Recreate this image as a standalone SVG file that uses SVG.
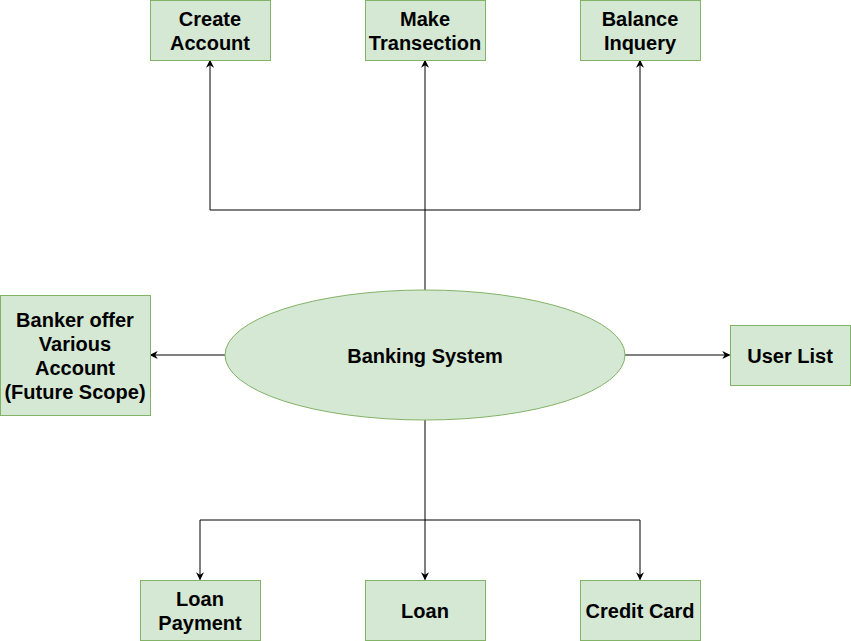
<svg xmlns="http://www.w3.org/2000/svg" width="851" height="641" viewBox="0 0 851 641">
<defs>
<style>
.n{fill:#d5e8d4;stroke:#82b366;stroke-width:1}
.t{font-family:"Liberation Sans",Arial,sans-serif;font-weight:bold;font-size:20px;fill:#000;text-anchor:middle}
.c{fill:none;stroke:#000;stroke-width:1}
</style>
<marker id="ah" viewBox="0 0 10 10" refX="9" refY="5" markerWidth="8" markerHeight="8" markerUnits="userSpaceOnUse" orient="auto">
<path d="M0,0 L10,5 L0,10 L3,5 Z" fill="#000"/>
</marker>
</defs>
<rect width="851" height="641" fill="#fff"/>
<g id="connectors">
<path class="c" d="M425,290 V60.5" marker-end="url(#ah)"/>
<path class="c" d="M425,210 H210 V60.5" marker-end="url(#ah)"/>
<path class="c" d="M425,210 H640 V60.5" marker-end="url(#ah)"/>
<path class="c" d="M225,355 H150.5" marker-end="url(#ah)"/>
<path class="c" d="M625,355 H729.5" marker-end="url(#ah)"/>
<path class="c" d="M425,420 V579.5" marker-end="url(#ah)"/>
<path class="c" d="M425,520 H200 V579.5" marker-end="url(#ah)"/>
<path class="c" d="M425,520 H640 V579.5" marker-end="url(#ah)"/>
</g>
<g id="create-account">
<rect class="n" x="150.5" y="0.5" width="120" height="60"/>
<text class="t" x="210" y="26">Create</text>
<text class="t" x="210" y="50">Account</text>
</g>
<g id="make-transection">
<rect class="n" x="365.5" y="0.5" width="120" height="60"/>
<text class="t" x="425" y="26">Make</text>
<text class="t" x="425" y="50">Transection</text>
</g>
<g id="balance-inquery">
<rect class="n" x="580.5" y="0.5" width="120" height="60"/>
<text class="t" x="640" y="26">Balance</text>
<text class="t" x="640" y="50">Inquery</text>
</g>
<g id="banking-system">
<ellipse class="n" cx="425" cy="355" rx="200" ry="65"/>
<text class="t" x="425" y="363">Banking System</text>
</g>
<g id="banker-offer">
<rect class="n" x="0.5" y="295.5" width="150" height="120"/>
<text class="t" x="75" y="327">Banker offer</text>
<text class="t" x="75" y="351">Various</text>
<text class="t" x="75" y="375">Account</text>
<text class="t" x="75" y="399">(Future Scope)</text>
</g>
<g id="user-list">
<rect class="n" x="730.5" y="325.5" width="120" height="60"/>
<text class="t" x="790" y="363">User List</text>
</g>
<g id="loan-payment">
<rect class="n" x="140.5" y="580.5" width="120" height="60"/>
<text class="t" x="200" y="606">Loan</text>
<text class="t" x="200" y="630">Payment</text>
</g>
<g id="loan">
<rect class="n" x="365.5" y="580.5" width="120" height="60"/>
<text class="t" x="425" y="618">Loan</text>
</g>
<g id="credit-card">
<rect class="n" x="580.5" y="580.5" width="120" height="60"/>
<text class="t" x="640" y="618">Credit Card</text>
</g>
</svg>
